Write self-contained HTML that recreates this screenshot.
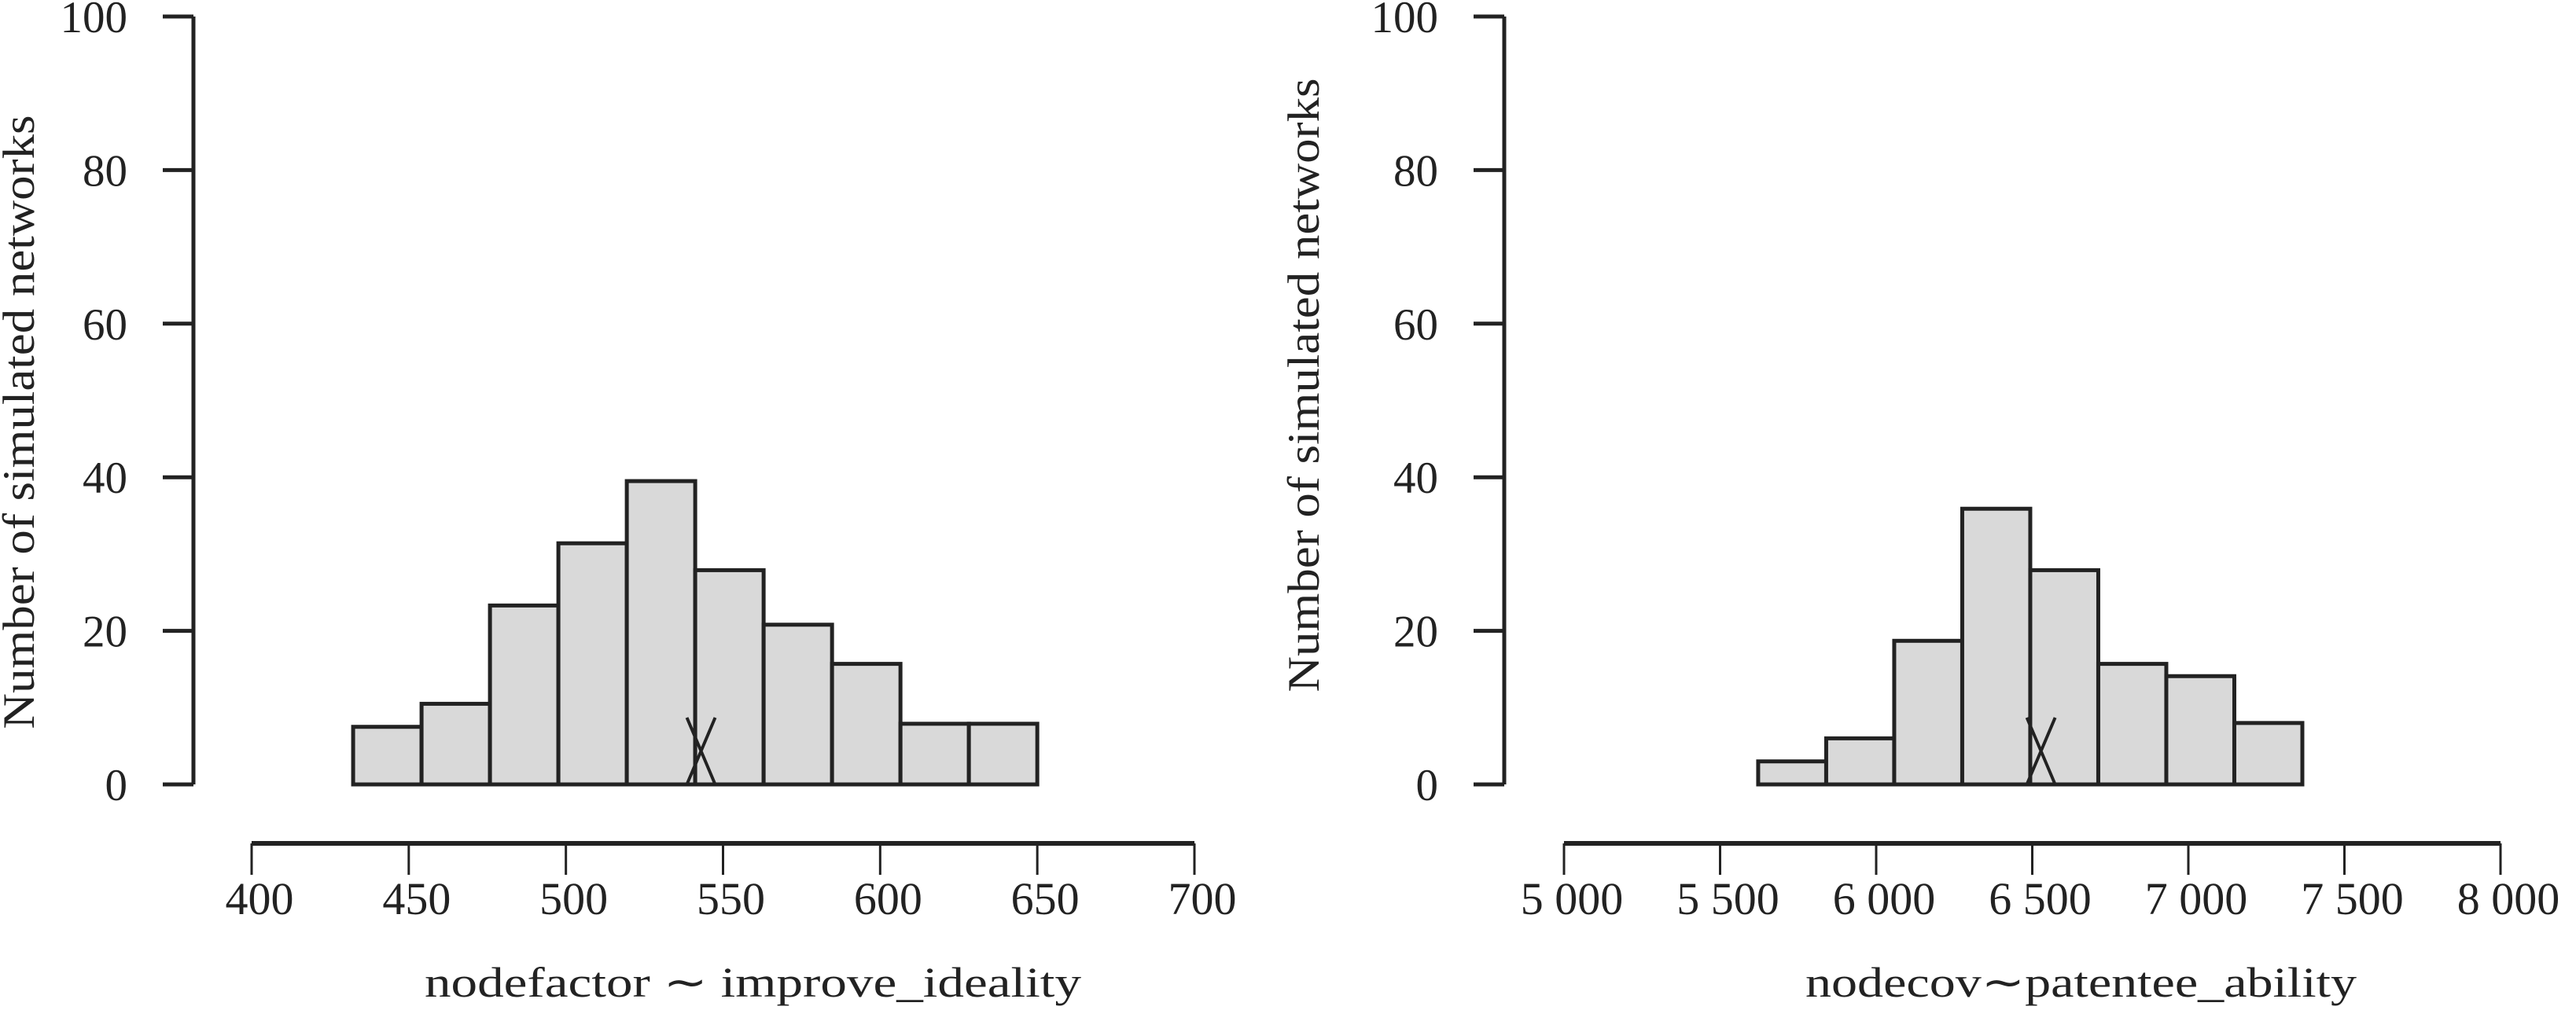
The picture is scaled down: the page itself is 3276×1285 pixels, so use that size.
<!DOCTYPE html>
<html><head><meta charset="utf-8"><style>
html,body{margin:0;padding:0;background:#fff;}
svg{display:block;font-family:"Liberation Serif",serif;}
</style></head><body>
<svg id="chart" width="3276" height="1285" viewBox="0 0 3276 1285" xmlns="http://www.w3.org/2000/svg">
<rect width="3276" height="1285" fill="#fff"/>
<g id="left"></g>
<g id="right"></g>
</svg>
<script>
// Left panel data
const leftBinStart = 432.3;
const leftBinWidth = 21.77;
const leftCounts = [7.5, 10.5, 23.3, 31.4, 39.5, 27.9, 20.8, 15.7, 7.9, 7.9];
const leftXTicks = [400, 450, 500, 550, 600, 650, 700];
const leftXTickLabels = ["400", "450", "500", "550", "600", "650", "700"];
const leftObserved = 543;
// Right panel data
const rightBinStart = 5622;
const rightBinWidth = 217.9;
const rightCounts = [3.0, 6.0, 18.7, 35.9, 27.9, 15.7, 14.1, 8.0];
const rightXTicks = [5000, 5500, 6000, 6500, 7000, 7500, 8000];
const rightXTickLabels = ["5 000", "5 500", "6 000", "6 500", "7 000", "7 500", "8 000"];
const rightObserved = 6528;
// Shared y axis
const yTicks = [0, 20, 40, 60, 80, 100];
const yTickLabels = ["0", "20", "40", "60", "80", "100"];

const NS = "http://www.w3.org/2000/svg";
function mk(parent, tag, attrs) {
  const e = document.createElementNS(NS, tag);
  for (const k in attrs) e.setAttribute(k, attrs[k]);
  parent.appendChild(e);
  return e;
}
const Y0 = 998, Y100 = 21;
function yS(v) { return Y0 + (Y100 - Y0) * v / 100; }

function panel(g, cfg) {
  const xS = v => cfg.px0 + (v - cfg.d0) * (cfg.px1 - cfg.px0) / (cfg.d1 - cfg.d0);
  // bars
  cfg.counts.forEach((c, i) => {
    const x0 = xS(cfg.binStart + i * cfg.binWidth), x1 = xS(cfg.binStart + (i + 1) * cfg.binWidth);
    const r = mk(g, "rect", {x: x0, y: yS(c), width: x1 - x0, height: yS(0) - yS(c), fill: "#d9d9d9", stroke: "#222", "stroke-width": 5});
    
    
  });
  // observed marker
  const ox = xS(cfg.observed), hw = 18;
  const m = mk(g, "path", {d: `M${ox - hw},${yS(0)} L${ox + hw},${yS(8.7)} M${ox - hw},${yS(8.7)} L${ox + hw},${yS(0)}`, stroke: "#222", "stroke-width": 4, fill: "none"});
  
  
  // y axis
  const ya = mk(g, "path", {d: `M${cfg.yAxisX},${yS(100)} L${cfg.yAxisX},${yS(0)}`, stroke: "#222", "stroke-width": 5, fill: "none"});
  
  
  yTicks.forEach((t, i) => {
    const tk = mk(g, "line", {x1: cfg.yAxisX - 39, x2: cfg.yAxisX, y1: yS(t), y2: yS(t), stroke: "#222", "stroke-width": 5});
    
    
    const tx = mk(g, "text", {x: cfg.yAxisX - 84, y: yS(t) + 20, "text-anchor": "end", "font-size": 57, fill: "#222"});
    tx.textContent = yTickLabels[i];
    
    
  });
  // x axis
  const xa = mk(g, "line", {x1: xS(cfg.xTicks[0]), x2: xS(cfg.xTicks[cfg.xTicks.length - 1]), y1: 1073, y2: 1073, stroke: "#222", "stroke-width": 6});
  
  
  cfg.xTicks.forEach((t, i) => {
    const tk = mk(g, "line", {x1: xS(t), x2: xS(t), y1: 1073, y2: 1113, stroke: "#222", "stroke-width": 3});
    
    
    const tx = mk(g, "text", {x: xS(t) + 10, y: 1163, "text-anchor": "middle", "font-size": 58, fill: "#222"});
    tx.textContent = cfg.xLabels[i];
    
    
  });
  // titles
  const xt = mk(g, "text", {x: cfg.titleX0, y: 1268, "font-size": 54, fill: "#222", textLength: cfg.titleW, lengthAdjust: "spacingAndGlyphs"});
  xt.textContent = cfg.title;
  
  
  const yt = mk(g, "text", {x: 0, y: 0, "font-size": 57, fill: "#222", "text-anchor": "middle", textLength: 781, lengthAdjust: "spacingAndGlyphs", transform: `translate(${cfg.yTitleX},${cfg.yTitleY}) rotate(-90)`});
  yt.textContent = "Number of simulated networks";
  
  
}

panel(document.getElementById("left"), {
  px0: 320, px1: 1519, d0: 400, d1: 700, counts: leftCounts, binStart: leftBinStart, binWidth: leftBinWidth,
  xTicks: leftXTicks, xLabels: leftXTickLabels, observed: leftObserved, yAxisX: 246,
  title: "nodefactor \u223C improve_ideality", titleX0: 540, titleW: 835, yTitleX: 43, yTitleY: 537
});
panel(document.getElementById("right"), {
  px0: 1989, px1: 3180, d0: 5000, d1: 8000, counts: rightCounts, binStart: rightBinStart, binWidth: rightBinWidth,
  xTicks: rightXTicks, xLabels: rightXTickLabels, observed: rightObserved, yAxisX: 1913,
  title: "nodecov\u223Cpatentee_ability", titleX0: 2296, titleW: 701, yTitleX: 1677, yTitleY: 490
});
</script>
</body></html>
